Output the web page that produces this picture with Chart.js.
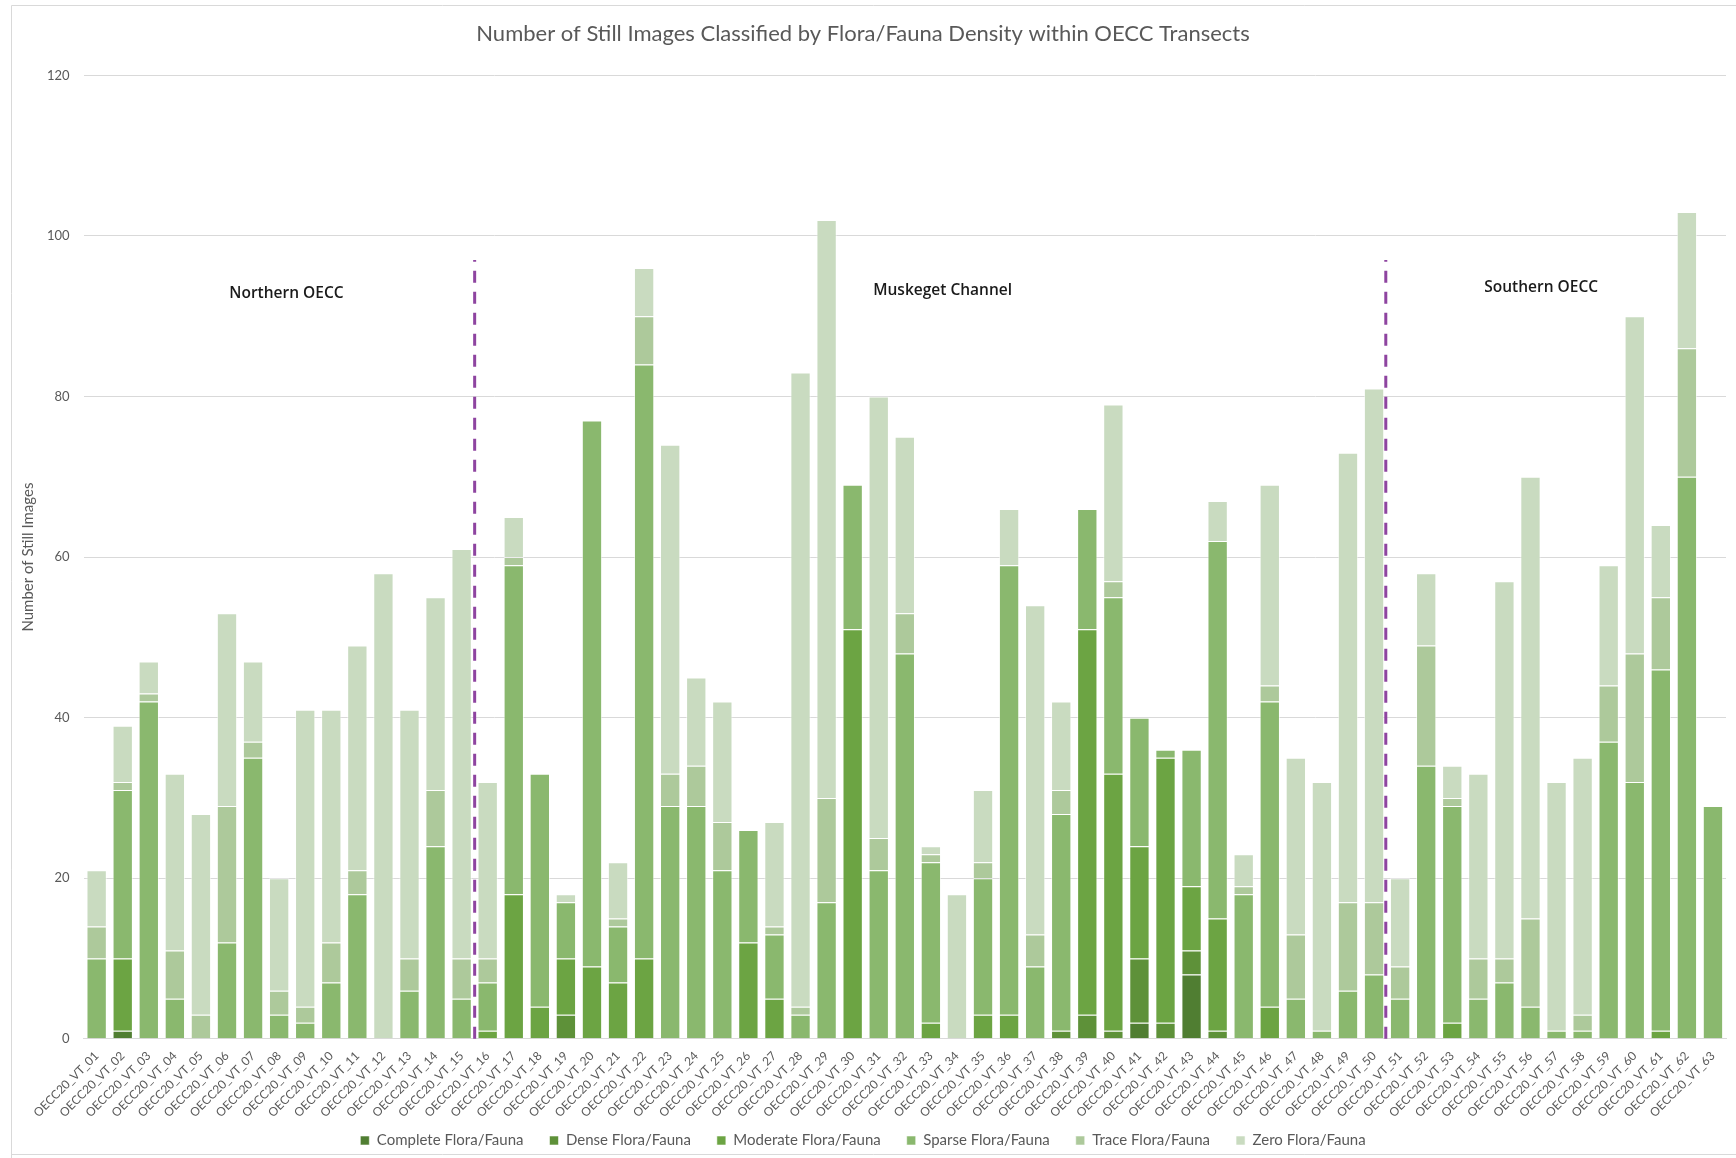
<!DOCTYPE html>
<html>
<head>
<meta charset="utf-8">
<script src="https://cdn.jsdelivr.net/npm/chart.js@4/dist/chart.umd.min.js"></script>
<style>
  html, body { margin: 0; padding: 0; background: #fff; }
  #wrap { width: 1736px; height: 1158px; position: relative; }
</style>
</head>
<body>
<div id="wrap"><canvas id="chart" width="1736" height="1158"></canvas></div>
<script>
// Still images per transect, split by flora/fauna density class

const transects = [];
for (let i = 1; i <= 63; i++) transects.push('OECC20_VT_' + String(i).padStart(2, '0'));

const complete = [0,1,0,0,0,0,0,0,0,0, 0,0,0,0,0,0,0,0,0,0, 0,0,0,0,0,0,0,0,0,0, 0,0,0,0,0,0,0,0,0,0, 2,0,8,0,0,0,0,0,0,0, 0,0,0,0,0,0,0,0,0,0, 0,0,0];
const dense    = [0,0,0,0,0,0,0,0,0,0, 0,0,0,0,0,0,0,0,3,0, 0,0,0,0,0,0,0,0,0,0, 0,0,0,0,0,0,0,1,3,1, 8,2,3,1,0,0,0,0,0,0, 0,0,0,0,0,0,0,0,0,0, 0,0,0];
const moderate = [0,9,0,0,0,0,0,0,0,0, 0,0,0,0,0,1,18,4,7,9, 7,10,0,0,0,12,5,0,0,51, 0,0,2,0,3,3,0,0,48,32, 14,33,8,14,0,4,0,0,0,0, 0,0,2,0,0,0,0,0,0,0, 1,0,0];
const sparse   = [10,21,42,5,0,12,35,3,2,7, 18,0,6,24,5,6,41,29,7,68, 7,74,29,29,21,14,8,3,17,18, 21,48,20,0,17,56,9,27,15,22, 16,1,17,47,18,38,5,1,6,8, 5,34,27,5,7,4,1,1,37,32, 45,70,29];
const trace    = [4,1,1,6,3,17,2,3,2,5, 3,0,4,7,5,3,1,0,0,0, 1,6,4,5,6,0,1,1,13,0, 4,5,1,0,2,0,4,3,0,2, 0,0,0,0,1,2,8,0,11,9, 4,15,1,5,3,11,0,2,7,16, 9,16,0];
const zero     = [7,7,4,22,25,24,10,14,37,29, 28,58,31,24,51,22,5,0,1,0, 7,6,41,11,15,0,13,79,72,0, 55,22,1,18,9,7,41,11,0,22, 0,0,0,5,4,25,22,31,56,64, 11,9,4,23,47,55,31,32,15,42, 9,17,0];

const seriesNames = ['Complete Flora/Fauna', 'Dense Flora/Fauna', 'Moderate Flora/Fauna',
                     'Sparse Flora/Fauna', 'Trace Flora/Fauna', 'Zero Flora/Fauna'];
const seriesColors = ['#507e32', '#5e9139', '#6ca443', '#8ab86e', '#adc99b', '#c9dbc0'];

// section dividers (between category indexes) and section labels
const dividers = [14.5, 49.45];
const dividerTop = 97;
const sections = [
  { text: 'Northern OECC', at: 7.28, y: 92.8 },
  { text: 'Muskeget Channel', at: 32.45, y: 93.2 },
  { text: 'Southern OECC', at: 55.41, y: 93.6 }
];

const FONT = "Lato, 'Open Sans', sans-serif";
const GREY = '#595959';

const sectionPlugin = {
  id: 'sections',
  beforeDraw(chart) {
    // light outer frame like the exported chart
    const c = chart.ctx;
    c.save();
    c.strokeStyle = '#d9d9d9';
    c.lineWidth = 1;
    c.beginPath();
    c.moveTo(11.5, 1158); c.lineTo(11.5, 5.5); c.lineTo(1736, 5.5);
    c.moveTo(11.5, 1154.5); c.lineTo(1736, 1154.5);
    c.stroke();
    c.restore();
  },
  afterDatasetsDraw(chart) {
    const c = chart.ctx;
    const x = chart.scales.x, y = chart.scales.y;
    c.save();
    c.strokeStyle = '#8e44a0';
    c.lineWidth = 3;
    c.setLineDash([12, 9]);
    dividers.forEach(d => {
      const px = x.getPixelForValue(d);
      c.beginPath();
      c.moveTo(px, y.getPixelForValue(0));
      c.lineTo(px, y.getPixelForValue(dividerTop));
      c.stroke();
    });
    c.setLineDash([]);
    c.fillStyle = '#1a1a1a';
    c.font = "600 15.5px 'Open Sans', sans-serif";
    c.textAlign = 'center';
    c.textBaseline = 'middle';
    sections.forEach(s => {
      c.fillText(s.text, x.getPixelForValue(s.at), y.getPixelForValue(s.y));
    });
    c.restore();
  }
};

const seriesData = [complete, dense, moderate, sparse, trace, zero];

new Chart(document.getElementById('chart'), {
  type: 'bar',
  data: {
    labels: transects,
    datasets: seriesNames.map((name, i) => ({
      label: name,
      data: seriesData[i],
      backgroundColor: seriesColors[i],
      borderColor: 'rgba(255,255,255,0.55)',
      borderWidth: 1,
      barPercentage: 0.78,
      categoryPercentage: 1.0
    }))
  },
  options: {
    responsive: false,
    animation: false,
    layout: { padding: { left: 0, right: 10, top: 10, bottom: 0 } },
    plugins: {
      title: {
        display: true,
        text: 'Number of Still Images Classified by Flora/Fauna Density within OECC Transects',
        color: GREY,
        font: { family: FONT, size: 22, weight: 'normal' },
        padding: { top: 11, bottom: 28 }
      },
      legend: {
        position: 'bottom',
        labels: {
          color: GREY,
          font: { family: FONT, size: 15 },
          boxWidth: 9,
          boxHeight: 9,
          padding: 11,
          // wider gaps between entries than the vertical padding allows
          generateLabels(chart) {
            const items = Chart.defaults.plugins.legend.labels.generateLabels(chart);
            items.forEach((it, i) => { if (i < items.length - 1) it.text += '\u2002\u2002'; });
            return items;
          }
        }
      },
      tooltip: { enabled: false }
    },
    scales: {
      x: {
        stacked: true,
        grid: { display: false },
        border: { color: '#d9d9d9' },
        ticks: {
          color: GREY,
          font: { family: FONT, size: 12 },
          minRotation: 45,
          maxRotation: 45,
          autoSkip: false,
          padding: 2
        }
      },
      y: {
        stacked: true,
        min: 0,
        max: 120,
        ticks: { stepSize: 20, color: GREY, font: { family: FONT, size: 13 }, padding: 14 },
        grid: { color: '#d9d9d9', drawTicks: false },
        border: { display: false },
        title: {
          display: true,
          text: 'Number of Still Images',
          color: GREY,
          font: { family: FONT, size: 15 },
          padding: { top: 19, bottom: -4 }
        }
      }
    }
  },
  plugins: [sectionPlugin]
});
</script>
</body>
</html>
